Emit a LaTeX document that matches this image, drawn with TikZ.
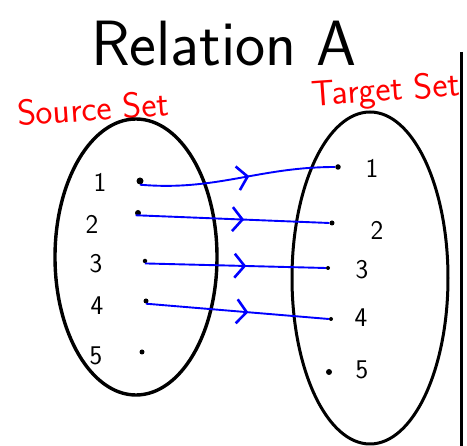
\documentclass[tikz,border=0pt]{standalone}
\usetikzlibrary{arrows.meta,decorations.markings,positioning}
\tikzstyle{setline} = [draw=black, line width=3.4pt]
\tikzstyle{member} = [inner sep=0pt, font=\sffamily\fontsize{27}{30}\selectfont]
\tikzstyle{dot} = [circle, fill=black, inner sep=0pt, minimum size=6pt]
\tikzstyle{setlabel} = [red, inner sep=0pt, font=\sffamily\fontsize{36}{40}\selectfont, rotate=4]
\tikzstyle{maps} = [blue, line width=1.9pt, postaction={decorate},
  decoration={markings, mark=at position 0.56 with {\arrow{Straight Barb[length=10pt,width=24pt,line width=2.6pt]}}}]

\begin{document}
\begin{tikzpicture}[x=1pt, y=-1pt]
	\useasboundingbox (0,0) rectangle (467,446);

	\node (title) at (224,44) {\sffamily\fontsize{64}{70}\selectfont Relation A};

	\node (srcLabel)[setlabel] at (93,108) {Source Set};
	\node (tgtLabel)[setlabel] at (386,92) {Target Set};

	% the two sets
	\draw [setline] (136,257) ellipse [x radius=81pt, y radius=138pt];
	\draw [line width=3pt] (370,278) ellipse [x radius=78pt, y radius=166pt];
	\draw [line width=3pt] (461,52) -- (461,446);

	% source elements
	\node (s1)[member] at (100,182) {1};
	\node (s2)[member] at (92,224) {2};
	\node (s3)[member] at (96,264) {3};
	\node (s4)[member] at (97,306) {4};
	\node (s5)[member] at (96,356) {5};

	\node (sd1)[dot, minimum size=7pt] at (140,181) {};
	\node (sd2)[dot] at (138,213) {};
	\node (sd3)[dot, minimum size=4.5pt] at (145,261) {};
	\node (sd4)[dot, minimum size=5pt] at (146,301) {};
	\node (sd5)[dot, minimum size=5pt] at (142,352) {};

	% target elements
	\node (t1)[member] at (372,168) {1};
	\node (t2)[member] at (377,230) {2};
	\node (t3)[member] at (362,270) {3};
	\node (t4)[member] at (361,318) {4};
	\node (t5)[member] at (362,370) {5};

	\node (td1)[dot, minimum size=5.5pt] at (338,167) {};
	\node (td2)[dot, minimum size=5pt] at (332,223) {};
	\node (td3)[dot, minimum size=4pt] at (328,268) {};
	\node (td4)[dot, minimum size=4pt] at (331,319) {};
	\node (td5)[dot, minimum size=6pt] at (329,372) {};

	% the relation
	\draw [maps] (sd1.south) to[out=-5, in=180] (td1.west);
	\draw [maps] (sd2.south west) -- (td2.west);
	\draw [maps] (sd3.south) -- (td3.west);
	\draw [maps] (sd4.south) -- (td4.west);

\end{tikzpicture}
\end{document}
